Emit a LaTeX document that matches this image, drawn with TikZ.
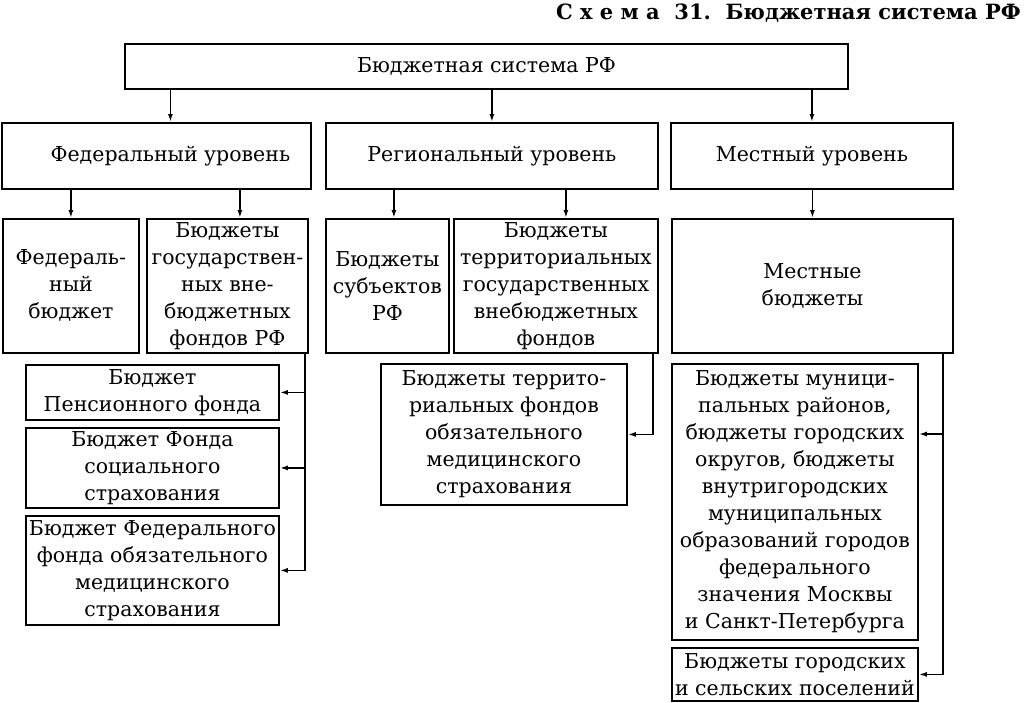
\documentclass[tikz,border=0pt]{standalone}
\usepackage{fontspec}
\setmainfont{DejaVu Serif}
\usetikzlibrary{arrows.meta}
\tikzset{
  bx/.style={draw, line width=1.8pt, inner sep=0pt, align=center, anchor=north west,
    font=\fontsize{20.5}{27}\selectfont},
  arr/.style={line width=1.8pt, -{Latex[length=8pt,width=5pt]}},
  ln/.style={line width=1.8pt}
}
\newcommand{\bxat}[7]{% name x1 y1 x2 y2 text
  \node[bx, minimum width={#4-#2}, minimum height={#5-#3}] (#1) at (#2,#3) {#6};}
\begin{document}
\begin{tikzpicture}[x=1pt,y=-1pt]
\useasboundingbox (0,0) rectangle (1024,702);
\node[anchor=base east, inner sep=0pt, font=\fontsize{21}{27}\selectfont\bfseries] (title) at (1021,19) {С х е м а\ \ 31.\ \ Бюджетная система РФ};
\bxat{top}{124}{43}{847}{88}{Бюджетная система РФ}{}
\bxat{fed}{1}{122}{310}{188}{\hspace*{28pt}Федеральный уровень}{}
\bxat{reg}{325}{122}{657}{188}{Региональный уровень}{}
\bxat{loc}{670}{122}{952}{188}{Местный уровень}{}
\bxat{fedb}{2}{218}{138}{352}{Федераль-\\ный\\бюджет}{}
\bxat{gos}{146}{218}{307}{352}{Бюджеты\\государствен-\\ных вне-\\бюджетных\\фондов РФ}{}
\bxat{subj}{325}{218}{448}{352}{Бюджеты\\субъектов\\РФ}{}
\bxat{terr}{453}{218}{657}{352}{Бюджеты\\территориальных\\государственных\\внебюджетных\\фондов}{}
\bxat{mest}{671}{218}{952}{352}{Местные\\бюджеты}{}
\bxat{pens}{25}{364}{278}{419}{Бюджет\\Пенсионного фонда}{}
\bxat{soc}{25}{427}{278}{507}{Бюджет Фонда\\социального\\страхования}{}
\bxat{ffoms}{25}{515}{278}{624}{Бюджет Федерального\\фонда обязательного\\медицинского\\страхования}{}
\bxat{tfoms}{380}{363}{626}{504}{Бюджеты террито-\\риальных фондов\\обязательного\\медицинского\\страхования}{}
\bxat{muni}{671}{363}{917}{639}{Бюджеты муници-\\пальных районов,\\бюджеты городских\\округов, бюджеты\\внутригородских\\муниципальных\\образований городов\\федерального\\значения Москвы\\и Санкт-Петербурга}{}
\bxat{pos}{671}{647}{917}{700}{Бюджеты городских\\и сельских поселений}{}
% arrows from top
\coordinate (t1) at ([xshift=14pt]fed.north);
\draw[arr] (top.south -| t1) -- (t1);
\draw[arr] (top.south -| reg.north) -- (reg.north);
\draw[arr] (top.south -| loc.north) -- (loc.north);
% level to row 3
\draw[arr] (fed.south -| fedb.north) -- (fedb.north);
\coordinate (g1) at ([xshift=12.5pt]gos.north);
\draw[arr] (fed.south -| g1) -- (g1);
\coordinate (s1) at ([xshift=6.5pt]subj.north);
\draw[arr] (reg.south -| s1) -- (s1);
\coordinate (r1) at ([xshift=10pt]terr.north);
\draw[arr] (reg.south -| r1) -- (r1);
\draw[arr] (loc.south -| mest.north) -- (mest.north);
% side connectors
\coordinate (gc) at ([xshift=-4pt]gos.south east);
\draw[arr] (gc) |- (pens.east);
\draw[arr] (gc) |- (soc.east);
\draw[arr] (gc) |- (ffoms.east);
\coordinate (tc) at ([xshift=-6pt]terr.south east);
\draw[arr] (tc) |- (tfoms.east);
\coordinate (mc) at ([xshift=-11pt]mest.south east);
\draw[arr] (mc) |- ([yshift=-71pt]muni.north east);
\draw[arr] (mc) |- (pos.east);
\end{tikzpicture}
\end{document}
